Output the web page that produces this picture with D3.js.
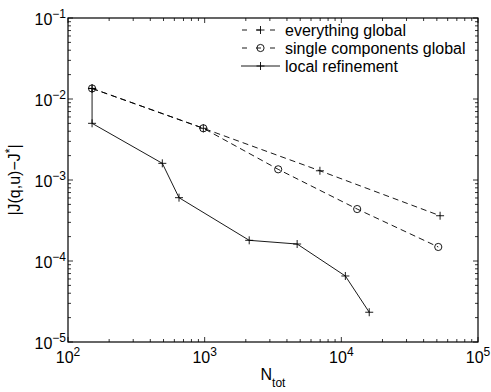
<!DOCTYPE html>
<html>
<head>
<meta charset="utf-8">
<script src="https://cdn.jsdelivr.net/npm/d3@7"></script>
<style>
  body { margin: 0; background: #fff; }
  svg { display: block; }
  text { font-family: "Liberation Sans", Arial, Helvetica, sans-serif; fill: #000; }
</style>
</head>
<body>
<div id="chart"></div>
<script>
// values
const seriesNames = ["everything global", "single components global", "local refinement"];

const nGlobal = [150, 978, 6970, 52800];
const jGlobal = [0.0135, 0.00435, 0.0013, 0.000362];

const nSingle = [150, 978, 3450, 13060, 51200];
const jSingle = [0.0135, 0.00435, 0.001355, 0.000438, 0.000149];

const nLocal = [150, 150, 490, 649, 2118, 4750, 10700, 16000];
const jLocal = [0.0135, 0.00501, 0.001606, 0.000605, 0.00018, 0.000162, 6.53e-5, 2.33e-5];

const xDecades = [2, 3, 4, 5];
const yDecades = [-1, -2, -3, -4, -5];

// chart dimensions
const W = 491, H = 392;
const margin = { top: 18, right: 13, bottom: 50, left: 68 };
const width = W - margin.left - margin.right;
const height = H - margin.top - margin.bottom;

const svg = d3.select("#chart").append("svg")
    .attr("width", W)
    .attr("height", H);

const g = svg.append("g")
    .attr("transform", `translate(${margin.left},${margin.top})`);

const x = d3.scaleLog().domain([1e2, 1e5]).range([0, width]);
const y = d3.scaleLog().domain([1e-5, 1e-1]).range([height, 0]);

// minor + major tick positions
const xMinor = [], yMinor = [];
for (let e = 2; e < 5; e++) for (let k = 2; k <= 9; k++) xMinor.push(k * Math.pow(10, e));
for (let e = -5; e < -1; e++) for (let k = 2; k <= 9; k++) yMinor.push(k * Math.pow(10, e));

const ticks = g.append("g").attr("stroke", "#000").attr("stroke-width", 0.8);
const majLen = 5, minLen = 3;
xDecades.forEach(e => {
    const px = x(Math.pow(10, e));
    ticks.append("line").attr("x1", px).attr("x2", px).attr("y1", height).attr("y2", height - majLen);
    ticks.append("line").attr("x1", px).attr("x2", px).attr("y1", 0).attr("y2", majLen);
});
xMinor.forEach(v => {
    const px = x(v);
    ticks.append("line").attr("x1", px).attr("x2", px).attr("y1", height).attr("y2", height - minLen);
    ticks.append("line").attr("x1", px).attr("x2", px).attr("y1", 0).attr("y2", minLen);
});
yDecades.forEach(e => {
    const py = y(Math.pow(10, e));
    ticks.append("line").attr("x1", 0).attr("x2", majLen).attr("y1", py).attr("y2", py);
    ticks.append("line").attr("x1", width).attr("x2", width - majLen).attr("y1", py).attr("y2", py);
});
yMinor.forEach(v => {
    const py = y(v);
    ticks.append("line").attr("x1", 0).attr("x2", minLen).attr("y1", py).attr("y2", py);
    ticks.append("line").attr("x1", width).attr("x2", width - minLen).attr("y1", py).attr("y2", py);
});

// axis box
g.append("rect")
    .attr("width", width)
    .attr("height", height)
    .attr("fill", "none")
    .attr("stroke", "#000")
    .attr("stroke-width", 1.2);

// tick labels
const fs = 16, expFs = 12;
xDecades.forEach(e => {
    const t = g.append("text")
        .attr("x", x(Math.pow(10, e)))
        .attr("y", height + 21)
        .attr("text-anchor", "middle")
        .style("font-size", fs + "px");
    t.append("tspan").text("10");
    t.append("tspan").attr("dy", -7).style("font-size", expFs + "px").text(e);
});
yDecades.forEach(e => {
    const t = g.append("text")
        .attr("x", -2)
        .attr("y", y(Math.pow(10, e)) + 7)
        .attr("text-anchor", "end")
        .style("font-size", fs + "px");
    t.append("tspan").text("10");
    t.append("tspan").attr("dy", -7).style("font-size", expFs + "px").text("\u2212" + (-e));
});

// axis labels
const xl = g.append("text")
    .attr("x", width / 2)
    .attr("y", height + 38)
    .attr("text-anchor", "middle")
    .style("font-size", fs + "px");
xl.append("tspan").text("N");
xl.append("tspan").attr("dy", 7).style("font-size", expFs + "px").text("tot");

const yl = g.append("text")
    .attr("transform", `translate(${-48},${height / 2}) rotate(-90)`)
    .attr("text-anchor", "middle")
    .style("font-size", fs + "px");
yl.append("tspan").text("|J(q,u)\u2212J");
yl.append("tspan").attr("dy", -6).style("font-size", expFs + "px").text("*");
yl.append("tspan").attr("dy", 6).text("|");

// series
const line = d3.line().x(d => x(d[0])).y(d => y(d[1]));
const zip = (a, b) => a.map((v, i) => [v, b[i]]);

const series = [
    { pts: zip(nGlobal, jGlobal), dash: "6,4", marker: "plus" },
    { pts: zip(nSingle, jSingle), dash: "6,4", marker: "circle" },
    { pts: zip(nLocal, jLocal), dash: null, marker: "plus" }
];

function drawMarker(sel, type, cx, cy) {
    if (type === "plus") {
        sel.append("path")
            .attr("d", `M${cx - 4},${cy}H${cx + 4}M${cx},${cy - 4}V${cy + 4}`)
            .attr("stroke", "#000").attr("stroke-width", 0.9).attr("fill", "none");
    } else {
        sel.append("circle")
            .attr("cx", cx).attr("cy", cy).attr("r", 3.6)
            .attr("stroke", "#000").attr("stroke-width", 0.9).attr("fill", "none");
    }
}

series.forEach(s => {
    g.append("path")
        .datum(s.pts)
        .attr("d", line)
        .attr("fill", "none")
        .attr("stroke", "#000")
        .attr("stroke-width", 0.9)
        .attr("stroke-dasharray", s.dash);
    s.pts.forEach(p => drawMarker(g, s.marker, x(p[0]), y(p[1])));
});

// legend (no box)
const legend = svg.append("g");
const rowY = [30, 48, 66];
series.forEach((s, i) => {
    legend.append("line")
        .attr("x1", 241).attr("x2", 280)
        .attr("y1", rowY[i]).attr("y2", rowY[i])
        .attr("stroke", "#000").attr("stroke-width", 0.9)
        .attr("stroke-dasharray", s.dash ? "5,9" : null)
        .attr("stroke-dashoffset", s.dash ? -1 : null);
    drawMarker(legend, s.marker, 260.5, rowY[i]);
    legend.append("text")
        .attr("x", 285)
        .attr("y", rowY[i] + 5.5)
        .style("font-size", fs + "px")
        .text(seriesNames[i]);
});
</script>
</body>
</html>
